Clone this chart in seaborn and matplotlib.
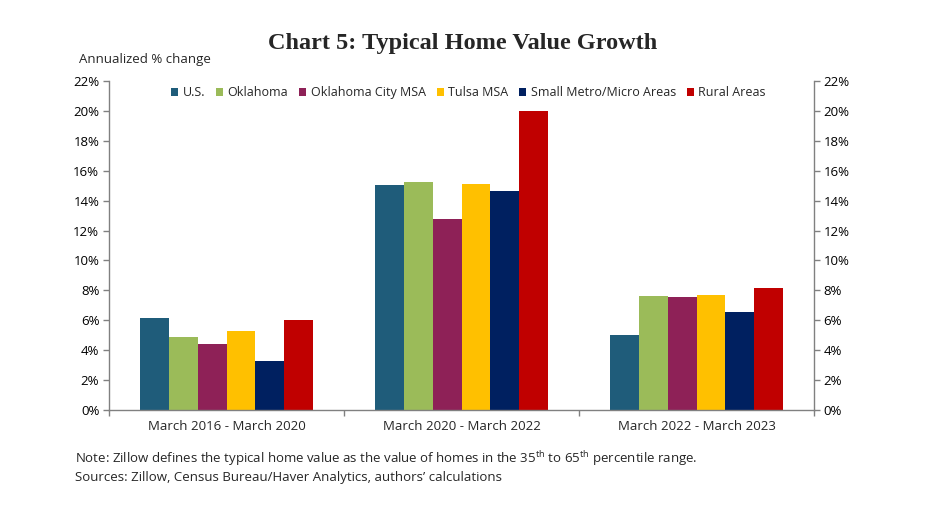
import pandas as pd
import numpy as np
import matplotlib
matplotlib.use("Agg")
import matplotlib.pyplot as plt
import seaborn as sns

# --- DATA ---
periods = ["March 2016 - March 2020", "March 2020 - March 2022", "March 2022 - March 2023"]
regions = ["U.S.", "Oklahoma", "Oklahoma City MSA", "Tulsa MSA",
           "Small Metro/Micro Areas", "Rural Areas"]
us_vals = [6.15, 15.05, 5.0]
ok_vals = [4.9, 15.27, 7.62]
okc_vals = [4.38, 12.8, 7.56]
tulsa_vals = [5.3, 15.1, 7.67]
small_vals = [3.27, 14.65, 6.55]
rural_vals = [6.02, 20.02, 8.13]
colors = ["#1F5C7A", "#9BBB59", "#8E2157", "#FFC000", "#002060", "#C00000"]

series = [us_vals, ok_vals, okc_vals, tulsa_vals, small_vals, rural_vals]
df = pd.DataFrame({
    "period": periods * len(regions),
    "region": [r for r in regions for _ in periods],
    "value": [v for s in series for v in s],
})

# --- PLOT ---
sns.set_theme(style="white")
plt.rcParams["font.family"] = ["Open Sans", "DejaVu Sans"]
plt.rcParams["mathtext.fontset"] = "custom"
plt.rcParams["mathtext.rm"] = "Open Sans"

fig = plt.figure(figsize=(9.25, 5.2), dpi=100)
ax = fig.add_axes([109 / 925, 1 - 410 / 520, (814 - 109) / 925, (410 - 81) / 520])

sns.barplot(data=df, x="period", y="value", hue="region", hue_order=regions,
            palette=colors, width=0.74, gap=0, saturation=1, ax=ax,
            edgecolor="none", linewidth=0)

ax.set_ylim(0, 22)
ax.set_xlim(-0.5, 2.5)
ax.set_yticks(np.arange(0, 23, 2))
ax.set_yticklabels([f"{t}%" for t in range(0, 23, 2)])
ax.set_xlabel("")
ax.set_ylabel("")

for side in ["left", "right", "bottom"]:
    ax.spines[side].set_visible(True)
    ax.spines[side].set_color("#808080")
    ax.spines[side].set_linewidth(1)
ax.spines["top"].set_visible(False)

ax.tick_params(axis="y", which="major", left=True, right=True, labelleft=True,
               labelright=True, direction="out", length=4, width=1,
               color="#808080", labelsize=9.5, labelcolor="#000000", pad=3)
ax.set_xticks([-0.5, 0.5, 1.5, 2.5], minor=True)
ax.tick_params(axis="x", which="major", length=0, labelsize=9.5, pad=7)
ax.tick_params(axis="x", which="minor", bottom=True, direction="out", length=4,
               width=1, color="#808080")
ax.grid(False)

ax.legend(loc="upper center", bbox_to_anchor=(0.51, 0.999), ncol=6, frameon=False,
          fontsize=9, handlelength=0.55, handleheight=0.55, handletextpad=0.35,
          columnspacing=0.9, borderaxespad=0.0)

fig.suptitle("Chart 5: Typical Home Value Growth", x=0.5, y=1 - 44 / 520,
             va="center", fontsize=17.5, fontweight="bold",
             family=["Liberation Serif", "DejaVu Serif"])
fig.text(79 / 925, 1 - 60 / 520, "Annualized % change", fontsize=9.5, va="center")
fig.text(75 / 925, 1 - 459 / 520,
         "Note: Zillow defines the typical home value as the value of homes in the "
         "35$^{\\mathrm{th}}$ to 65$^{\\mathrm{th}}$ percentile range.",
         fontsize=9.5, va="center")
fig.text(75 / 925, 1 - 477 / 520,
         "Sources: Zillow, Census Bureau/Haver Analytics, authors\u2019 calculations",
         fontsize=9.5, va="center")

fig.savefig("out.png", dpi=100)
